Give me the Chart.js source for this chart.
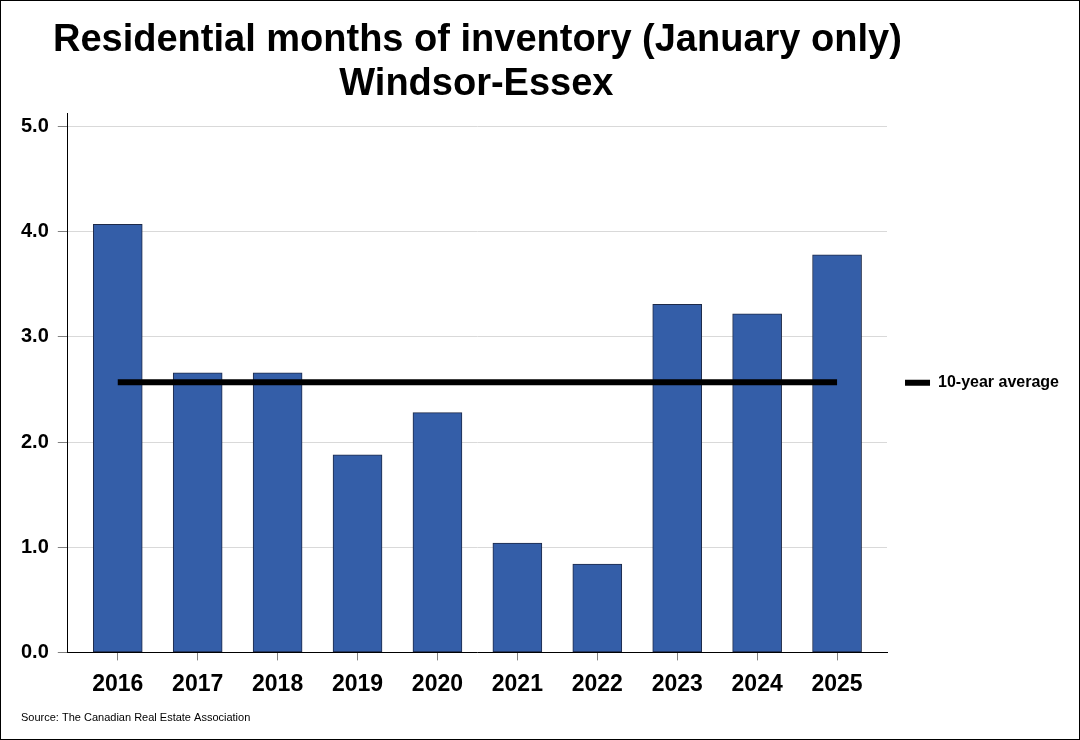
<!DOCTYPE html>
<html>
<head>
<meta charset="utf-8">
<title>Residential months of inventory - Windsor-Essex</title>
<script src="https://cdn.jsdelivr.net/npm/chart.js@4.4.1/dist/chart.umd.min.js"></script>
<style>
    html, body { margin: 0; padding: 0; background: #ffffff; }
    #wrap { position: relative; width: 1080px; height: 740px; }
</style>
</head>
<body>
<div id="wrap"><canvas id="inventoryChart"></canvas></div>
<script>
// Chart data
const years = ['2016', '2017', '2018', '2019', '2020', '2021', '2022', '2023', '2024', '2025'];
const monthsOfInventory = [4.07, 2.66, 2.66, 1.88, 2.28, 1.04, 0.84, 3.31, 3.22, 3.78];
const tenYearAverage = 2.57;
const yTickLabels = ['0.0', '1.0', '2.0', '3.0', '4.0', '5.0'];

const titleLines = ['Residential months of inventory (January only)', 'Windsor-Essex'];
const averageLabel = '10-year average';
const sourceNote = 'Source: The Canadian Real Estate Association';

const FONT = '"Liberation Sans", Arial, Helvetica, sans-serif';

// White background, title (wider than the plot, so drawn by hand), frame and source note
const frameAndSource = {
    id: 'frameAndSource',
    beforeDraw(chart) {
        const ctx = chart.ctx;
        ctx.save();
        ctx.fillStyle = '#ffffff';
        ctx.fillRect(0, 0, chart.width, chart.height);
        ctx.restore();
    },
    afterDraw(chart) {
        const ctx = chart.ctx;
        const area = chart.chartArea;
        ctx.save();

        // title, centred over the plot area
        ctx.fillStyle = '#000000';
        ctx.font = 'bold 38px ' + FONT;
        ctx.textAlign = 'center';
        ctx.textBaseline = 'alphabetic';
        const cx = (area.left + area.right) / 2;
        ctx.fillText(titleLines[0], cx, 51);
        ctx.fillText(titleLines[1], cx - 1, 95);

        // source note
        ctx.font = '11px ' + FONT;
        ctx.textAlign = 'left';
        ctx.textBaseline = 'middle';
        ctx.fillText(sourceNote, 21, 718);

        // outer frame
        ctx.strokeStyle = '#000000';
        ctx.lineWidth = 1;
        ctx.strokeRect(0.5, 0.5, chart.width - 1, chart.height - 1);
        ctx.restore();
    }
};

document.addEventListener('DOMContentLoaded', function() {
    const ctx = document.getElementById('inventoryChart').getContext('2d');

    new Chart(ctx, {
        data: {
            datasets: [{
                type: 'bar',
                label: 'Months of inventory',
                data: monthsOfInventory.map((v, i) => ({ x: i, y: v })),
                backgroundColor: '#345EA8',
                borderColor: '#1E2A48',
                borderWidth: 1,
                borderSkipped: false,
                barThickness: 49,
                order: 2
            }, {
                type: 'line',
                label: averageLabel,
                data: [{ x: 0, y: tenYearAverage }, { x: years.length - 1, y: tenYearAverage }],
                borderColor: '#000000',
                backgroundColor: '#000000',
                borderWidth: 6,
                pointRadius: 0,
                fill: false,
                order: 1
            }]
        },
        options: {
            responsive: true,
            maintainAspectRatio: false,
            animation: false,
            layout: {
                padding: { left: 12, right: 11, top: 113, bottom: 32 }
            },
            plugins: {
                title: { display: false },
                legend: {
                    display: true,
                    position: 'right',
                    fullSize: false,
                    labels: {
                        color: '#000000',
                        font: { family: FONT, size: 16, weight: 'bold' },
                        boxWidth: 25,
                        boxHeight: 6,
                        padding: 18,
                        generateLabels: function() {
                            return [{
                                text: averageLabel,
                                fillStyle: '#000000',
                                strokeStyle: '#000000',
                                lineWidth: 0,
                                hidden: false,
                                datasetIndex: 1
                            }];
                        }
                    }
                },
                tooltip: { enabled: false }
            },
            scales: {
                x: {
                    type: 'linear',
                    min: -0.625,
                    max: 9.625,
                    offset: false,
                    border: { color: '#000000', width: 1 },
                    grid: {
                        display: true,
                        offset: false,
                        drawOnChartArea: false,
                        drawTicks: true,
                        tickLength: 8,
                        tickColor: '#808080'
                    },
                    ticks: {
                        stepSize: 1,
                        includeBounds: false,
                        autoSkip: false,
                        maxRotation: 0,
                        padding: 10,
                        color: '#000000',
                        font: { family: FONT, size: 23, weight: 'bold' },
                        callback: function(value) {
                            return years[value] !== undefined ? years[value] : '';
                        }
                    }
                },
                y: {
                    min: 0,
                    max: 5.13,
                    border: { color: '#000000', width: 1 },
                    grid: {
                        color: '#d9d9d9',
                        lineWidth: 1,
                        tickLength: 10,
                        tickColor: '#808080'
                    },
                    ticks: {
                        stepSize: 1,
                        includeBounds: false,
                        padding: 9,
                        color: '#000000',
                        font: { family: FONT, size: 20, weight: 'bold' },
                        callback: function(value) {
                            return yTickLabels[value] !== undefined ? yTickLabels[value] : '';
                        }
                    }
                }
            }
        },
        plugins: [frameAndSource]
    });
});
</script>
</body>
</html>
